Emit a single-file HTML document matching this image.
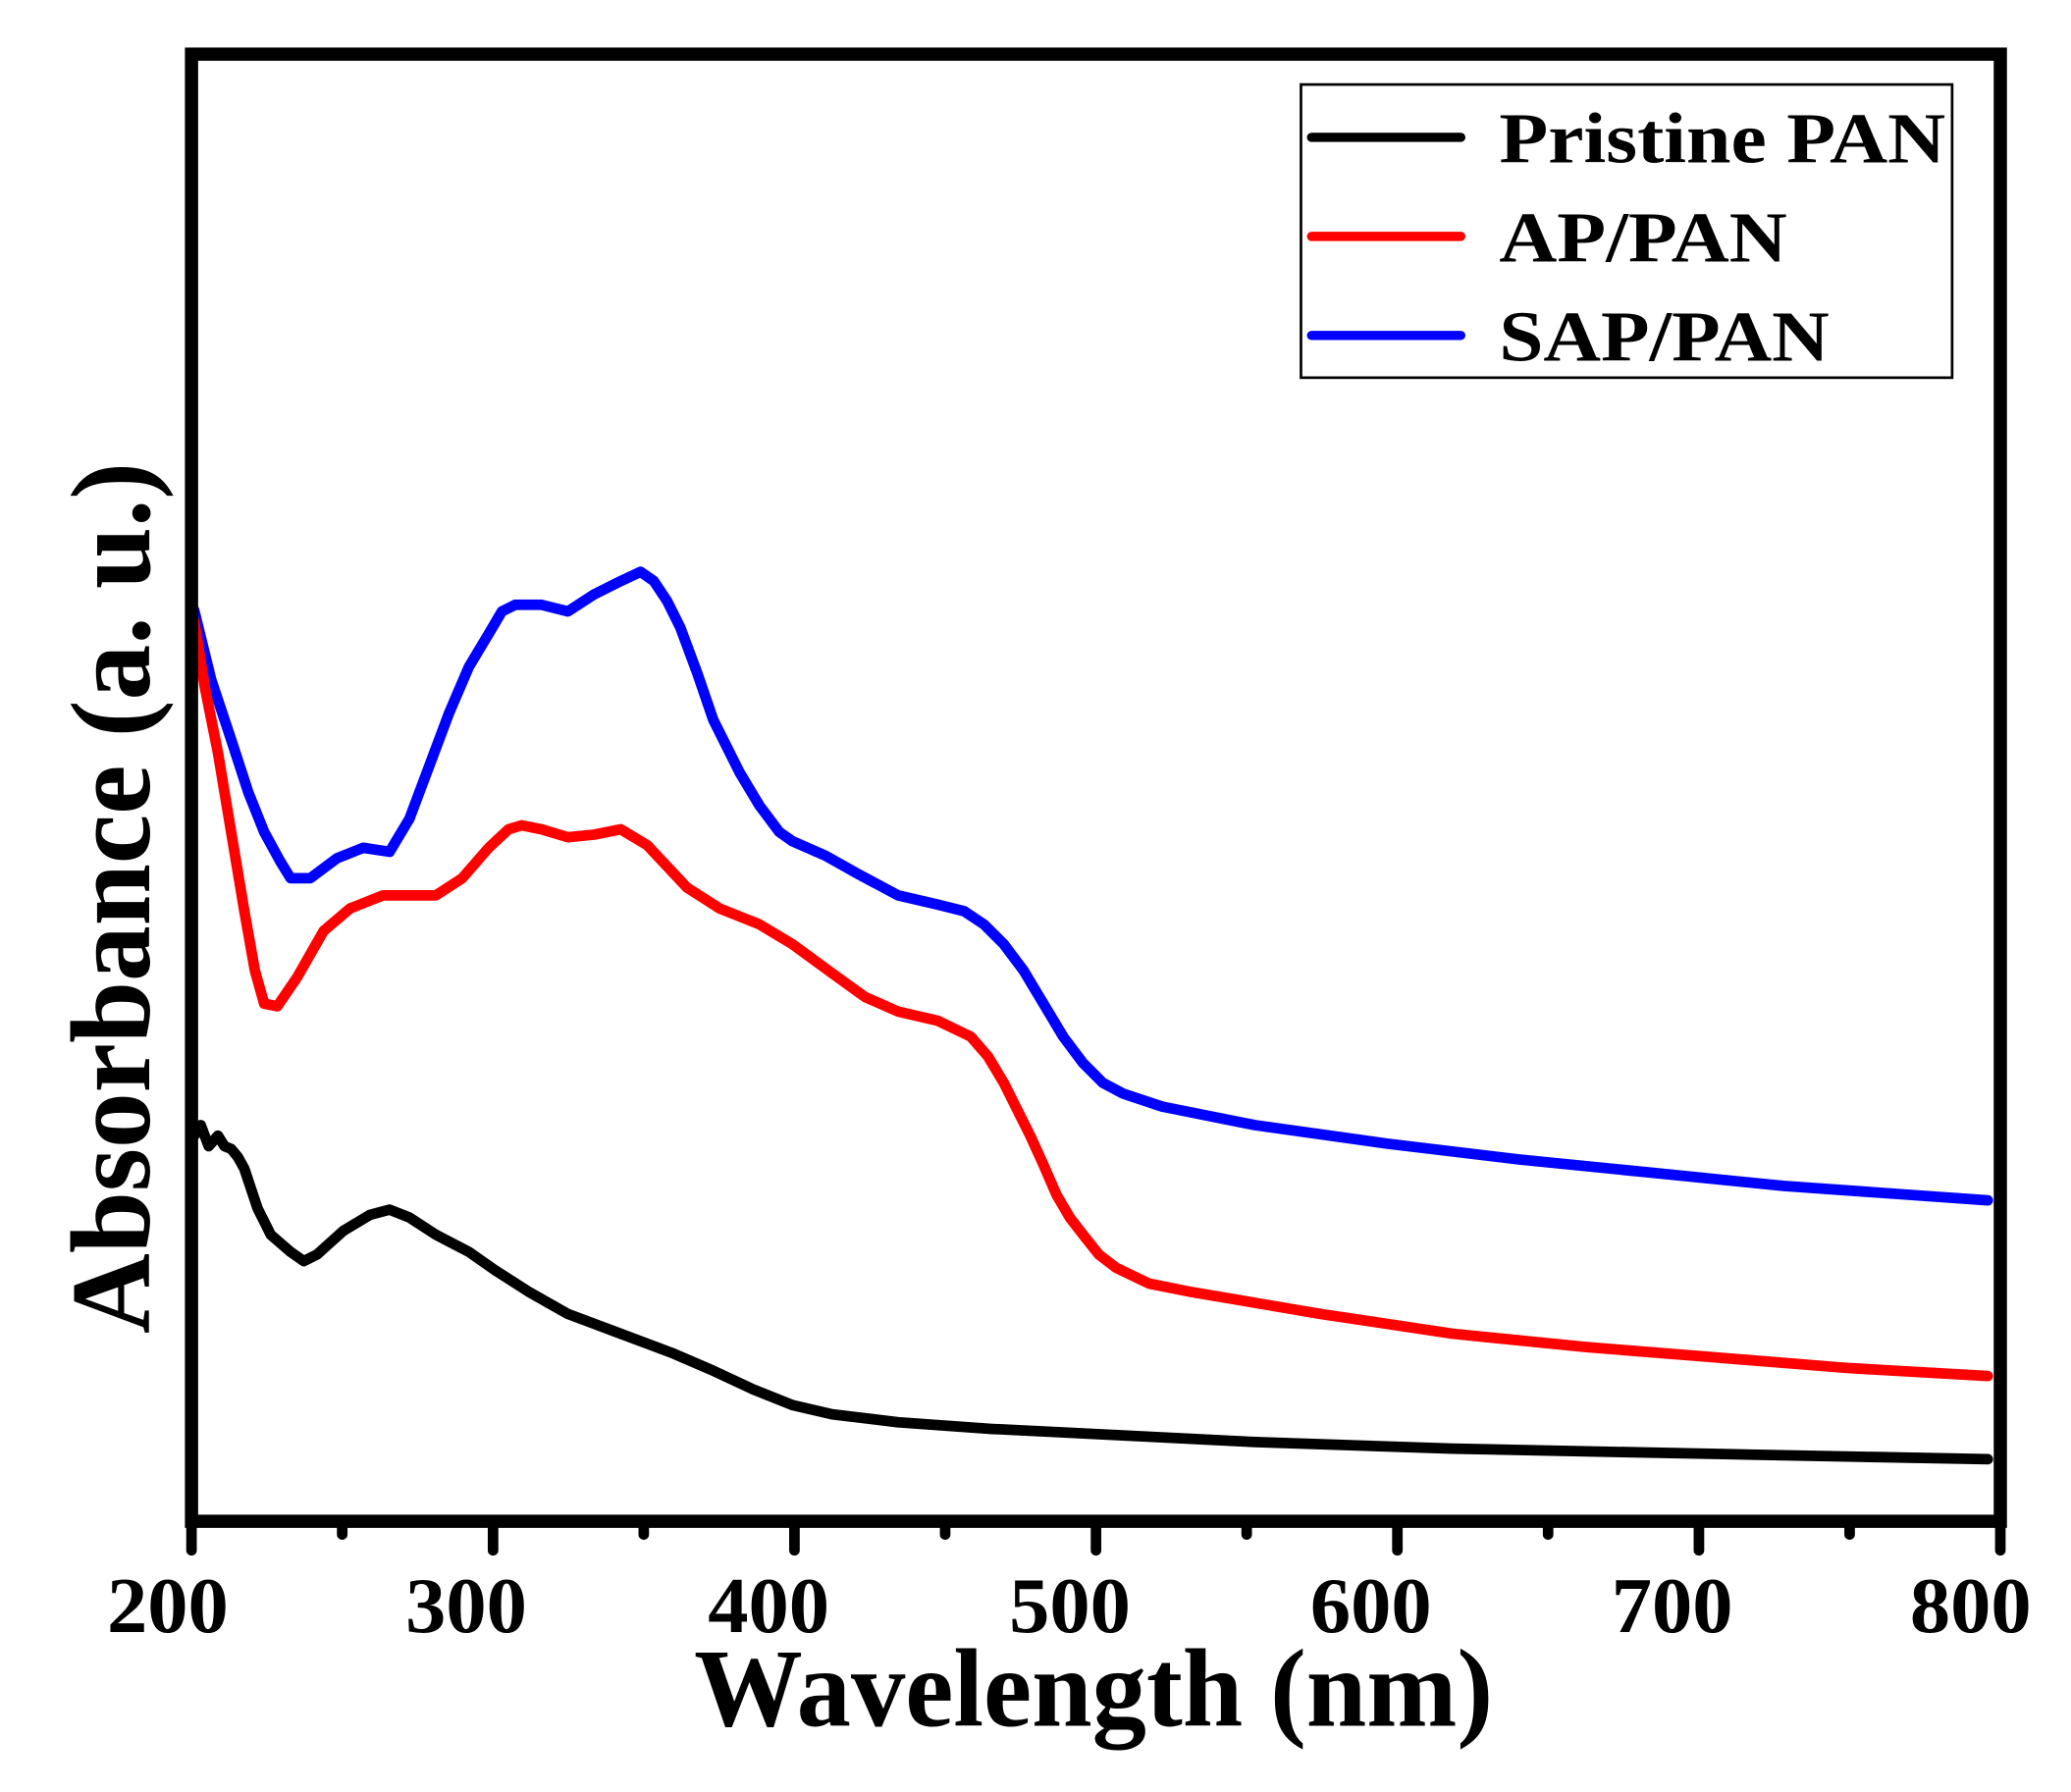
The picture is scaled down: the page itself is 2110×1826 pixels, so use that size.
<!DOCTYPE html>
<html><head><meta charset="utf-8"><style>
html,body{margin:0;padding:0;background:#fff;}
svg{display:block;}
text{font-family:"Liberation Serif",serif;font-weight:bold;fill:#000;}
</style></head><body>
<svg width="2110" height="1826" viewBox="0 0 1568 1357" preserveAspectRatio="none" xmlns="http://www.w3.org/2000/svg">
<rect x="0" y="0" width="1568" height="1357" fill="#fff"/>
<g fill="none" stroke-width="8" stroke-linejoin="round" stroke-linecap="round">
<polyline stroke="#0000ff" points="147,462 160,515 175,560 188,600 200,630 212,652 220,665 235,665 255,650 275,642 295,645 310,620 325,580 340,540 355,505 370,480 380,463 390,458 410,458 430,463 450,450 470,440 485,433 495,440 505,455 515,475 528,510 540,545 560,585 575,610 590,630 600,637 625,648 650,662 680,678 710,685 730,690 745,700 760,715 775,735 790,760 805,785 820,805 835,820 850,828 880,838 950,852 1050,866 1150,878 1250,888 1350,898 1505,909"/>
<polyline stroke="#ff0000" points="147,470 155,520 165,570 175,630 185,690 193,735 200,760 210,762 225,740 245,705 265,688 290,678 310,678 330,678 350,665 370,642 385,628 395,625 410,628 430,634 450,632 470,628 490,640 505,656 520,672 545,688 575,700 600,715 630,737 655,755 680,766 710,773 735,785 748,800 760,820 770,840 780,860 790,882 800,905 810,922 820,935 832,950 845,960 870,972 900,978 1000,995 1100,1010 1200,1020 1300,1028 1400,1036 1505,1042"/>
<polyline stroke="#000000" points="147,860 152,852 158,868 165,860 170,868 175,870 180,876 185,885 190,900 195,915 205,935 220,948 230,955 240,950 260,932 280,920 295,916 310,922 330,935 355,948 375,962 400,978 430,995 470,1010 510,1025 540,1038 570,1052 600,1064 630,1071 680,1077 750,1082 850,1087 950,1092 1100,1097 1300,1101 1505,1105"/>
</g>
<rect x="145" y="41" width="1369.5" height="1111" fill="none" stroke="#000" stroke-width="10"/>
<g stroke="#000" stroke-width="8" stroke-linecap="round">
<line x1="145" y1="1152" x2="145" y2="1174"/>
<line x1="373.3" y1="1152" x2="373.3" y2="1174"/>
<line x1="601.5" y1="1152" x2="601.5" y2="1174"/>
<line x1="829.8" y1="1152" x2="829.8" y2="1174"/>
<line x1="1058" y1="1152" x2="1058" y2="1174"/>
<line x1="1286.3" y1="1152" x2="1286.3" y2="1174"/>
<line x1="1514.5" y1="1152" x2="1514.5" y2="1174"/>
<line x1="259.1" y1="1152" x2="259.1" y2="1162"/>
<line x1="487.4" y1="1152" x2="487.4" y2="1162"/>
<line x1="715.6" y1="1152" x2="715.6" y2="1162"/>
<line x1="943.9" y1="1152" x2="943.9" y2="1162"/>
<line x1="1172.1" y1="1152" x2="1172.1" y2="1162"/>
<line x1="1400.4" y1="1152" x2="1400.4" y2="1162"/>
</g>
<g font-size="60" text-anchor="middle">
<text x="127" y="1236" textLength="92" lengthAdjust="spacingAndGlyphs">200</text>
<text x="353" y="1236" textLength="92" lengthAdjust="spacingAndGlyphs">300</text>
<text x="582" y="1236" textLength="92" lengthAdjust="spacingAndGlyphs">400</text>
<text x="810" y="1236" textLength="92" lengthAdjust="spacingAndGlyphs">500</text>
<text x="1038" y="1236" textLength="92" lengthAdjust="spacingAndGlyphs">600</text>
<text x="1266" y="1236" textLength="92" lengthAdjust="spacingAndGlyphs">700</text>
<text x="1492" y="1236" textLength="92" lengthAdjust="spacingAndGlyphs">800</text>
</g>
<text x="828" y="1307" font-size="84" text-anchor="middle" textLength="605" lengthAdjust="spacingAndGlyphs">Wavelength (nm)</text>
<text transform="translate(113,680) rotate(-90)" font-size="86" text-anchor="middle" textLength="660" lengthAdjust="spacingAndGlyphs">Absorbance (a. u.)</text>
<rect x="985" y="64" width="493" height="222" fill="#fff" stroke="#000" stroke-width="2"/>
<g stroke-width="7" stroke-linecap="round">
<line x1="993" y1="104" x2="1106" y2="104" stroke="#000"/>
<line x1="993" y1="179" x2="1106" y2="179" stroke="#ff0000"/>
<line x1="993" y1="254" x2="1106" y2="254" stroke="#0000ff"/>
</g>
<g font-size="54">
<text x="1135" y="123" textLength="338" lengthAdjust="spacingAndGlyphs">Pristine PAN</text>
<text x="1135" y="198" textLength="218" lengthAdjust="spacingAndGlyphs">AP/PAN</text>
<text x="1135" y="273" textLength="250" lengthAdjust="spacingAndGlyphs">SAP/PAN</text>
</g>
</svg>
</body></html>
